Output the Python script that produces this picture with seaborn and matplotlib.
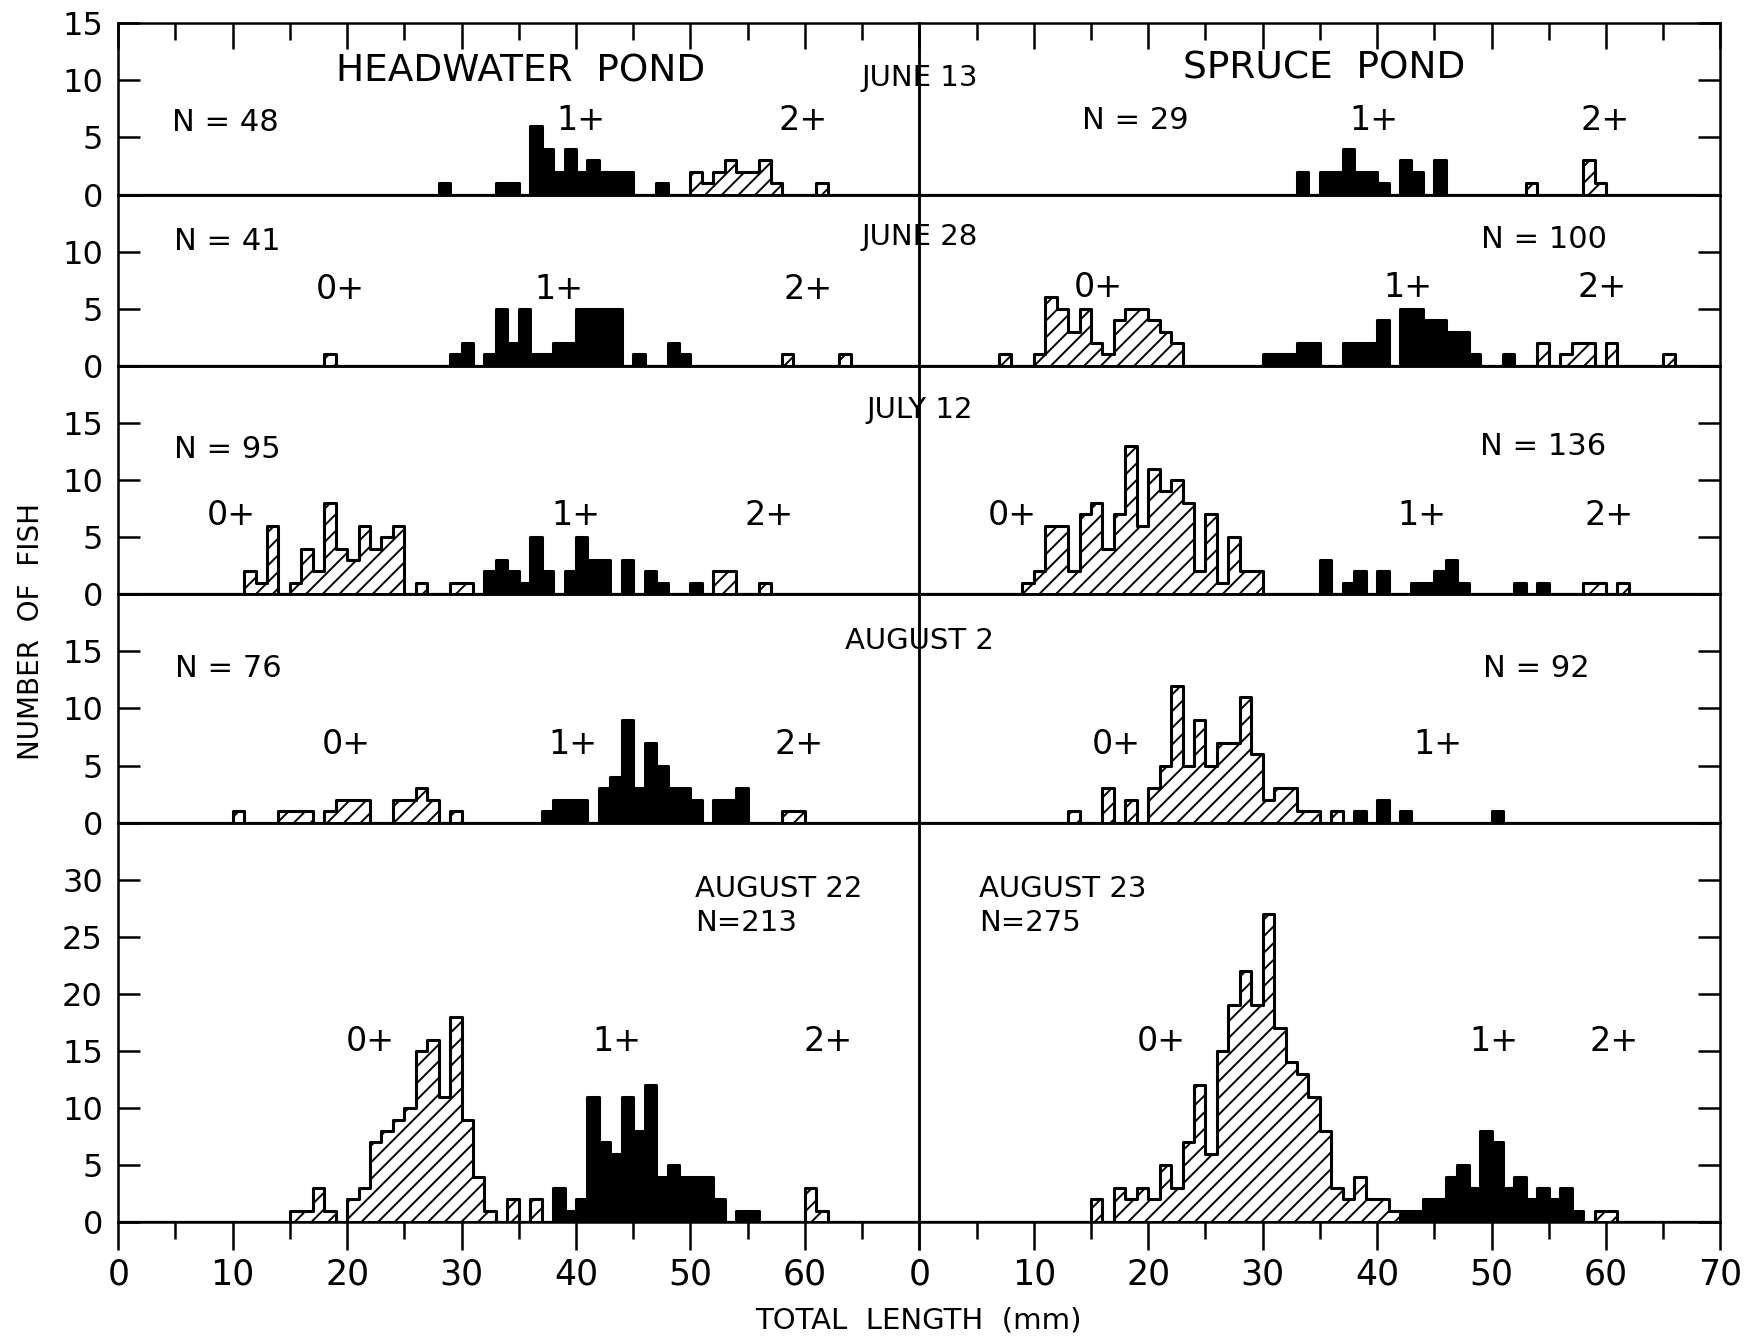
import numpy as np
import pandas as pd
import seaborn as sns
import matplotlib
matplotlib.use("Agg")
import matplotlib.pyplot as plt

# 1 mm length classes as (total length mm, number of fish)
# hatched = 0+ and 2+ fish, solid = 1+ fish
hw_jun13_hatch = [(50, 2), (51, 1), (52, 2), (53, 3), (54, 2), (55, 2), (56, 3), (57, 1), (61, 1)]
hw_jun13_solid = [(28, 1), (33, 1), (34, 1), (36, 6), (37, 4), (38, 2), (39, 4), (40, 2), (41, 3),
                  (42, 2), (43, 2), (44, 2), (47, 1)]
sp_jun13_hatch = [(53, 1), (58, 3), (59, 1)]
sp_jun13_solid = [(33, 2), (35, 2), (36, 2), (37, 4), (38, 2), (39, 2), (40, 1), (42, 3), (43, 2), (45, 3)]

hw_jun28_hatch = [(18, 1), (58, 1), (63, 1)]
hw_jun28_solid = [(29, 1), (30, 2), (32, 1), (33, 5), (34, 2), (35, 5), (36, 1), (37, 1), (38, 2), (39, 2),
                  (40, 5), (41, 5), (42, 5), (43, 5), (45, 1), (48, 2), (49, 1)]
sp_jun28_hatch = [(7, 1), (10, 1), (11, 6), (12, 5), (13, 3), (14, 5), (15, 2), (16, 1), (17, 4), (18, 5),
                  (19, 5), (20, 4), (21, 3), (22, 2), (54, 2), (56, 1), (57, 2), (58, 2), (60, 2), (65, 1)]
sp_jun28_solid = [(30, 1), (31, 1), (32, 1), (33, 2), (34, 2), (37, 2), (38, 2), (39, 2), (40, 4), (42, 5),
                  (43, 5), (44, 4), (45, 4), (46, 3), (47, 3), (48, 1), (51, 1)]

hw_jul12_hatch = [(11, 2), (12, 1), (13, 6), (15, 1), (16, 4), (17, 2), (18, 8), (19, 4), (20, 3), (21, 6),
                  (22, 4), (23, 5), (24, 6), (26, 1), (29, 1), (30, 1), (52, 2), (53, 2), (56, 1)]
hw_jul12_solid = [(32, 2), (33, 3), (34, 2), (35, 1), (36, 5), (37, 2), (39, 2), (40, 5), (41, 3), (42, 3),
                  (44, 3), (46, 2), (47, 1), (50, 1)]
sp_jul12_hatch = [(9, 1), (10, 2), (11, 6), (12, 6), (13, 2), (14, 7), (15, 8), (16, 4), (17, 7), (18, 13),
                  (19, 6), (20, 11), (21, 9), (22, 10), (23, 8), (24, 2), (25, 7), (26, 1), (27, 5), (28, 2),
                  (29, 2), (58, 1), (59, 1), (61, 1)]
sp_jul12_solid = [(35, 3), (37, 1), (38, 2), (40, 2), (43, 1), (44, 1), (45, 2), (46, 3), (47, 1), (52, 1), (54, 1)]

hw_aug2_hatch = [(10, 1), (14, 1), (15, 1), (16, 1), (18, 1), (19, 2), (20, 2), (21, 2), (24, 2), (25, 2),
                 (26, 3), (27, 2), (29, 1), (58, 1), (59, 1)]
hw_aug2_solid = [(37, 1), (38, 2), (39, 2), (40, 2), (42, 3), (43, 4), (44, 9), (45, 3), (46, 7), (47, 5),
                 (48, 3), (49, 3), (50, 2), (52, 2), (53, 2), (54, 3)]
sp_aug2_hatch = [(13, 1), (16, 3), (18, 2), (20, 3), (21, 5), (22, 12), (23, 5), (24, 9), (25, 5), (26, 7),
                 (27, 7), (28, 11), (29, 6), (30, 2), (31, 3), (32, 3), (33, 1), (34, 1), (36, 1)]
sp_aug2_solid = [(38, 1), (40, 2), (42, 1), (50, 1)]

hw_aug22_hatch = [(15, 1), (16, 1), (17, 3), (18, 1), (20, 2), (21, 3), (22, 7), (23, 8), (24, 9), (25, 10),
                  (26, 15), (27, 16), (28, 11), (29, 18), (30, 9), (31, 4), (32, 1), (34, 2), (36, 2),
                  (60, 3), (61, 1)]
hw_aug22_solid = [(38, 3), (39, 1), (40, 2), (41, 11), (42, 7), (43, 6), (44, 11), (45, 8), (46, 12), (47, 4),
                  (48, 5), (49, 4), (50, 4), (51, 4), (52, 2), (54, 1), (55, 1)]
sp_aug23_hatch = [(15, 2), (17, 3), (18, 2), (19, 3), (20, 2), (21, 5), (22, 3), (23, 7), (24, 12), (25, 6),
                  (26, 15), (27, 19), (28, 22), (29, 19), (30, 27), (31, 17), (32, 14), (33, 13), (34, 11),
                  (35, 8), (36, 3), (37, 2), (38, 4), (39, 2), (40, 2), (41, 1), (59, 1), (60, 1)]
sp_aug23_solid = [(42, 1), (43, 1), (44, 2), (45, 2), (46, 4), (47, 5), (48, 3), (49, 8), (50, 7), (51, 3),
                  (52, 4), (53, 2), (54, 3), (55, 2), (56, 3), (57, 1)]

rows = [
    (hw_jun13_hatch, hw_jun13_solid, sp_jun13_hatch, sp_jun13_solid),
    (hw_jun28_hatch, hw_jun28_solid, sp_jun28_hatch, sp_jun28_solid),
    (hw_jul12_hatch, hw_jul12_solid, sp_jul12_hatch, sp_jul12_solid),
    (hw_aug2_hatch, hw_aug2_solid, sp_aug2_hatch, sp_aug2_solid),
    (hw_aug22_hatch, hw_aug22_solid, sp_aug23_hatch, sp_aug23_solid),
]
row_ymax = [15, 15, 20, 20, 35]
row_yticks = [[0, 5, 10, 15], [0, 5, 10], [0, 5, 10, 15], [0, 5, 10, 15], [0, 5, 10, 15, 20, 25, 30]]

# (row, col, text, x, y, ha, size)
notes = [
    (0, 0, "HEADWATER  POND", 35.2, 10.8, "center", 27),
    (0, 1, "SPRUCE  POND", 35.4, 11.0, "center", 27),
    (0, 1, "JUNE 13", 0, 10.2, "center", 21),
    (0, 0, "N = 48", 4.7, 6.3, "left", 22),
    (0, 0, "1+", 40.4, 6.5, "center", 24),
    (0, 0, "2+", 59.8, 6.5, "center", 24),
    (0, 1, "N = 29", 18.9, 6.5, "center", 22),
    (0, 1, "1+", 39.7, 6.5, "center", 24),
    (0, 1, "2+", 59.9, 6.5, "center", 24),
    (1, 0, "N = 41", 4.9, 10.9, "left", 22),
    (1, 1, "JUNE 28", 0, 11.3, "center", 21),
    (1, 1, "N = 100", 54.6, 11.1, "center", 22),
    (1, 0, "0+", 19.4, 6.7, "center", 24),
    (1, 0, "1+", 38.5, 6.7, "center", 24),
    (1, 0, "2+", 60.3, 6.7, "center", 24),
    (1, 1, "0+", 15.6, 6.9, "center", 24),
    (1, 1, "1+", 42.7, 6.9, "center", 24),
    (1, 1, "2+", 59.7, 6.9, "center", 24),
    (2, 1, "JULY 12", 0, 16.1, "center", 21),
    (2, 0, "N = 95", 4.9, 12.7, "left", 22),
    (2, 1, "N = 136", 54.5, 12.9, "center", 22),
    (2, 0, "0+", 9.9, 6.9, "center", 24),
    (2, 0, "1+", 40.0, 6.9, "center", 24),
    (2, 0, "2+", 56.9, 6.9, "center", 24),
    (2, 1, "0+", 8.1, 6.9, "center", 24),
    (2, 1, "1+", 43.9, 6.9, "center", 24),
    (2, 1, "2+", 60.3, 6.9, "center", 24),
    (3, 1, "AUGUST 2", 0, 15.9, "center", 21),
    (3, 0, "N = 76", 5.0, 13.5, "left", 22),
    (3, 1, "N = 92", 53.9, 13.5, "center", 22),
    (3, 0, "0+", 19.9, 6.8, "center", 24),
    (3, 0, "1+", 39.7, 6.8, "center", 24),
    (3, 0, "2+", 59.5, 6.8, "center", 24),
    (3, 1, "0+", 17.2, 6.8, "center", 24),
    (3, 1, "1+", 45.3, 6.8, "center", 24),
    (4, 0, "AUGUST 22", 50.4, 29.2, "left", 21),
    (4, 0, "N=213", 50.4, 26.2, "left", 21),
    (4, 1, "AUGUST 23", 5.2, 29.2, "left", 21),
    (4, 1, "N=275", 5.2, 26.2, "left", 21),
    (4, 0, "0+", 22.0, 15.8, "center", 24),
    (4, 0, "1+", 43.6, 15.8, "center", 24),
    (4, 0, "2+", 62.0, 15.8, "center", 24),
    (4, 1, "0+", 21.1, 15.8, "center", 24),
    (4, 1, "1+", 50.2, 15.8, "center", 24),
    (4, 1, "2+", 60.7, 15.8, "center", 24),
]

plt.rcParams["font.family"] = ["DejaVu Sans"]
plt.rcParams["hatch.linewidth"] = 1.4
plt.rcParams["axes.linewidth"] = 1.8


def draw(ax, pairs, **kws):
    df = pd.DataFrame(pairs, columns=["mm", "fish"])
    df["mid"] = df["mm"] + 0.5
    sns.histplot(data=df, x="mid", weights="fish", binwidth=1, binrange=(0, 70), element="step",
                 fill=True, alpha=1, linewidth=2.2, ax=ax, **kws)


fig = plt.figure(figsize=(17.52, 13.37), dpi=100)
gs = fig.add_gridspec(5, 2, height_ratios=row_ymax, hspace=0, wspace=0,
                      left=0.0675, right=0.982, top=0.9826, bottom=0.0858)
axes = [[fig.add_subplot(gs[r, c]) for c in range(2)] for r in range(5)]

for r, (lh, ls, rh, rs) in enumerate(rows):
    for c, (hatch, solid) in enumerate([(lh, ls), (rh, rs)]):
        ax = axes[r][c]
        ax.patch.set_alpha(0)
        draw(ax, solid, color="black")
        draw(ax, hatch, facecolor="white", edgecolor="black", hatch="//")
        ax.set_xlabel("")
        ax.set_ylabel("")
        ax.set_xlim(0, 70)
        ax.set_ylim(0, row_ymax[r])

        ax.set_xticks(range(0, 71, 10))
        ax.set_xticks(range(5, 70, 10), minor=True)
        if c == 0:
            ax.set_xticklabels([str(v) for v in range(0, 61, 10)] + [""])
        top, bottom = r == 0, r == 4
        ax.tick_params(axis="x", which="both", top=top, bottom=bottom, labeltop=False,
                       labelbottom=bottom, direction="in" if top else "out", width=1.8,
                       labelsize=25, pad=5)
        ax.tick_params(axis="x", which="major", length=20 if bottom else 19)
        ax.tick_params(axis="x", which="minor", length=12.5)

        ax.set_yticks(row_yticks[r])
        ax.tick_params(axis="y", which="both", direction="in", length=16, width=1.8,
                       left=c == 0, right=c == 1, labelleft=c == 0, labelright=False,
                       labelsize=23, pad=11)

for r, c, text, x, y, ha, size in notes:
    axes[r][c].text(x, y, text, ha=ha, va="center", fontsize=size, zorder=5)

fig.text(0.0177, 0.528, "NUMBER  OF  FISH", rotation=90, ha="center", va="center", fontsize=20)
fig.text(0.524, 0.0123, "TOTAL  LENGTH  (mm)", ha="center", va="center", fontsize=21)

fig.savefig("out.png", dpi=100)
